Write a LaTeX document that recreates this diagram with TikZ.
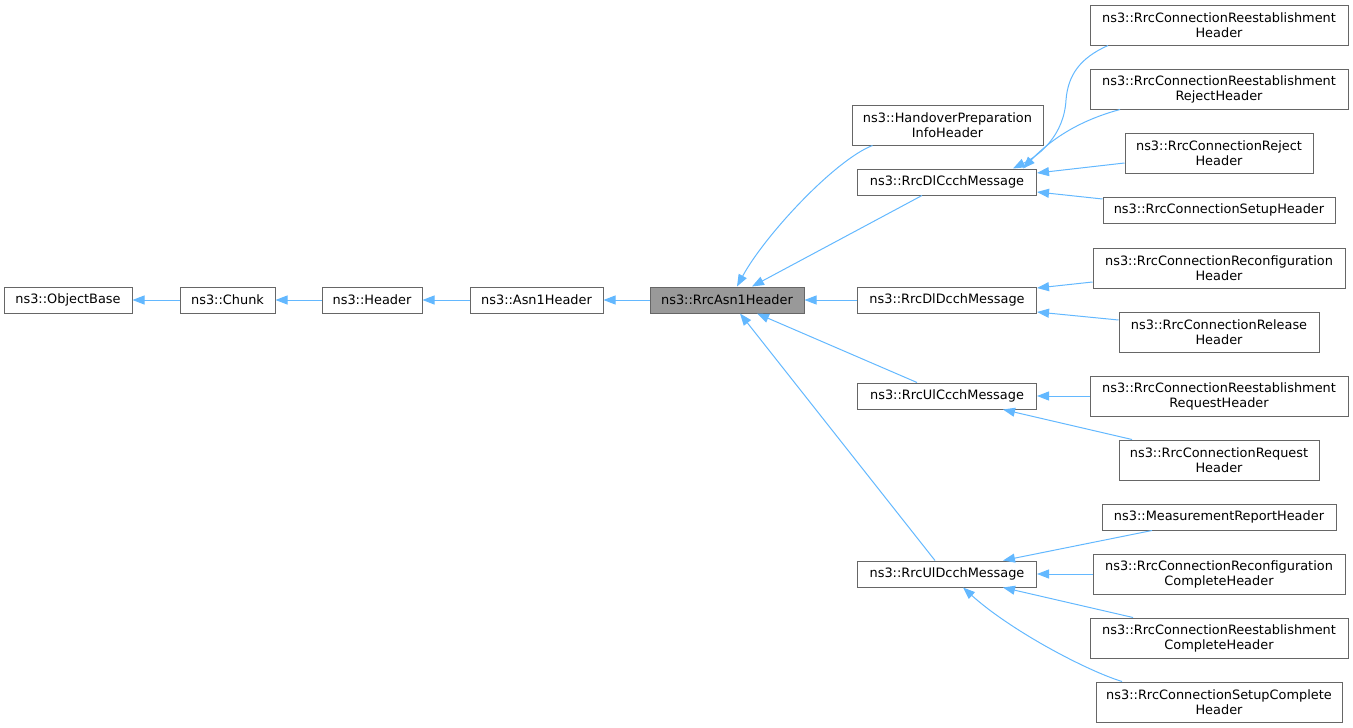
\documentclass[tikz,border=0pt]{standalone}
\usepackage{fontspec}
\setmainfont{DejaVu Sans}
\usetikzlibrary{arrows.meta}
\definecolor{boxline}{HTML}{666666}
\definecolor{curfill}{HTML}{999999}
\definecolor{inhblue}{HTML}{63B8FF}
\tikzset{
  cls/.style={draw=boxline, line width=1pt, fill=white, inner sep=0pt, align=center,
    minimum height=26pt, font=\fontsize{12.9}{15}\selectfont},
  cls2/.style={cls, minimum height=40pt},
  inh/.style={inhblue, line width=1pt, -{Triangle[length=12pt,width=9pt]}}
}
\begin{document}
\begin{tikzpicture}[x=1pt, y=-1pt]
      \useasboundingbox (0,0) rectangle (1353,728);
      % base chain
      \node[cls, minimum width=128pt] (ob) at (68,300) {ns3::ObjectBase};
      \node[cls, minimum width=95pt] (ch) at (227.5,300) {ns3::Chunk};
      \node[cls, minimum width=100pt] (hd) at (372,300) {ns3::Header};
      \node[cls, minimum width=133pt] (asn) at (536.5,300) {ns3::Asn1Header};
      \node[cls, minimum width=154pt, fill=curfill] (rrc) at (727,300) {ns3::RrcAsn1Header};
      % messages
      \node[cls2, minimum width=191pt] (ho) at (947.5,125) {ns3::HandoverPreparation\\InfoHeader};
      \node[cls, minimum width=179pt] (dlc) at (947,182) {ns3::RrcDlCcchMessage};
      \node[cls, minimum width=179pt] (dld) at (947,300) {ns3::RrcDlDcchMessage};
      \node[cls, minimum width=179pt] (ulc) at (947,396) {ns3::RrcUlCcchMessage};
      \node[cls, minimum width=179pt] (uld) at (947,574) {ns3::RrcUlDcchMessage};
      % headers
      \node[cls2, minimum width=258pt] (reest) at (1219,25) {ns3::RrcConnectionReestablishment\\Header};
      \node[cls2, minimum width=258pt] (reestrej) at (1219,89) {ns3::RrcConnectionReestablishment\\RejectHeader};
      \node[cls2, minimum width=188pt] (rej) at (1219,153) {ns3::RrcConnectionReject\\Header};
      \node[cls, minimum width=232pt] (setup) at (1219,210) {ns3::RrcConnectionSetupHeader};
      \node[cls2, minimum width=252pt] (reconf) at (1219,268) {ns3::RrcConnectionReconfiguration\\Header};
      \node[cls2, minimum width=200pt] (rel) at (1219,332) {ns3::RrcConnectionRelease\\Header};
      \node[cls2, minimum width=258pt] (reestreq) at (1219,396) {ns3::RrcConnectionReestablishment\\RequestHeader};
      \node[cls2, minimum width=200pt] (req) at (1219,460) {ns3::RrcConnectionRequest\\Header};
      \node[cls, minimum width=234pt] (meas) at (1219,517) {ns3::MeasurementReportHeader};
      \node[cls2, minimum width=252pt] (reconfc) at (1219,574) {ns3::RrcConnectionReconfiguration\\CompleteHeader};
      \node[cls2, minimum width=258pt] (reestc) at (1219,638) {ns3::RrcConnectionReestablishment\\CompleteHeader};
      \node[cls2, minimum width=246pt] (setupc) at (1219,702) {ns3::RrcConnectionSetupComplete\\Header};
      % inheritance
      \path[inh] (ch) edge (ob);
      \path[inh] (hd) edge (ch);
      \path[inh] (asn) edge (hd);
      \path[inh] (rrc) edge (asn);
      \path[inh] (dld) edge (rrc);
      \draw[inh] ([xshift=-75pt]ho.south) .. controls (835,160) and (765,235) .. ([xshift=10pt]rrc.north);
      \path[inh] ([xshift=-25pt]dlc.south) edge ([xshift=25pt]rrc.north);
      \path[inh] ([xshift=-30pt]ulc.north) edge ([xshift=30pt]rrc.south);
      \path[inh] ([xshift=-12pt]uld.north) edge ([xshift=13pt]rrc.south);
      \draw[inh] ([xshift=-111pt]reest.south) .. controls (1080,58) and (1068,75) .. (1066,100)
        .. controls (1064,135) and (1040,155) .. ([xshift=66pt]dlc.north);
      \draw[inh] ([xshift=-99pt]reestrej.south) .. controls (1085,119) and (1055,135) .. ([xshift=76pt]dlc.north);
      \path[inh] ([yshift=-10pt]rej.west) edge ([yshift=9pt]dlc.east);
      \path[inh] ([yshift=11pt]setup.west) edge ([yshift=-10pt]dlc.east);
      \path[inh] ([yshift=-14pt]reconf.west) edge ([yshift=12pt]dld.east);
      \path[inh] ([yshift=12pt]rel.west) edge ([yshift=-12pt]dld.east);
      \path[inh] (reestreq) edge (ulc);
      \path[inh] ([xshift=-87pt]req.north) edge ([xshift=56pt]ulc.south);
      \path[inh] ([xshift=-67pt]meas.south) edge ([xshift=56pt]uld.north);
      \path[inh] (reconfc) edge (uld);
      \path[inh] ([xshift=-86pt]reestc.north) edge ([xshift=56pt]uld.south);
      \draw[inh] ([xshift=-97pt]setupc.north) .. controls (1085,670) and (1010,630) .. ([xshift=16pt]uld.south);
\end{tikzpicture}
\end{document}
